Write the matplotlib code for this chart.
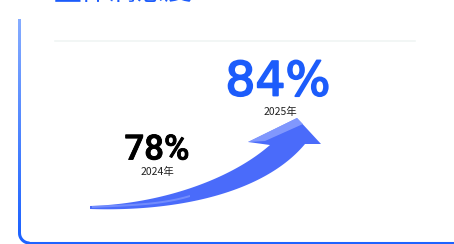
import numpy as np
import matplotlib.pyplot as plt
import matplotlib.patheffects as pe
from matplotlib.colors import LinearSegmentedColormap
from matplotlib.patches import Polygon

plt.rcParams['font.family'] = ['Noto Sans CJK SC', 'DejaVu Sans']

# 데이터
title = "整体满意度"
years = ["2024年", "2025年"]
rates = [78, 84]

BLUE = "#1c5cfb"
ARROW = "#4a6bfa"
ARROW_LIGHT = "#8ea3ff"


def rate_to_y(r):
    # 만족도 → 세로 위치 (픽셀, 위가 0)
    return 150 - (r - rates[0]) * (70 / 6)


def bezier(p0, p1, p2, p3, n=80):
    t = np.linspace(0, 1, n)[:, None]
    p0, p1, p2, p3 = map(np.array, (p0, p1, p2, p3))
    return ((1 - t) ** 3 * p0 + 3 * (1 - t) ** 2 * t * p1
            + 3 * (1 - t) * t ** 2 * p2 + t ** 3 * p3)


fig = plt.figure(figsize=(4.54, 2.44), dpi=100)
ax = fig.add_axes([0, 0, 1, 1])
ax.set_xlim(0, 454)
ax.set_ylim(244, 0)
ax.axis("off")

# 제목 (위쪽이 잘려 있음)
ax.text(54, 0.5, title, color=BLUE, fontsize=20, ha="left", va="baseline")

# 왼쪽/아래 테두리 (세로 그라데이션)
cmap = LinearSegmentedColormap.from_list("b", ["#86acff", "#1e63ff"])
grad = np.linspace(0, 1, 200)[:, None]
ax.imshow(grad, cmap=cmap, aspect="auto", extent=[18.4, 20.6, 233, 19],
          interpolation="bilinear", zorder=1)
ang = np.linspace(np.pi, np.pi / 2, 20)
ax.plot(29.5 + 10 * np.cos(ang), 233 + 10 * np.sin(ang), color="#1e63ff", lw=2.2,
        solid_capstyle="butt")
ax.plot([29.5, 454], [243, 243], color="#1e63ff", lw=2.2)
ax.set_xlim(0, 454)
ax.set_ylim(244, 0)

# 희미한 구분선
ax.plot([55, 415], [41, 41], color="#f0f5f4", lw=1.2)

# 곡선 화살표
top = bezier((90, 206), (160, 204), (230, 180), (270, 145))
bot = bezier((90, 209), (180, 212), (265, 192), (305, 144))
head = [(248, 142), (297, 118), (321, 144)]
shape = np.vstack([top, head, bot[::-1]])
ax.add_patch(Polygon(shape, closed=True, facecolor=ARROW, edgecolor="none"))
# 밝은 면
ax.add_patch(Polygon([(248, 142), (297, 118), (303, 124), (265, 141)],
                     closed=True, facecolor=ARROW_LIGHT, edgecolor="none", alpha=0.8))
hl = bezier((92, 206), (130, 204), (160, 204), (190, 195), n=40)
hl2 = hl + np.array([0, 2.0])
ax.add_patch(Polygon(np.vstack([hl, hl2[::-1]]), closed=True,
                     facecolor=ARROW_LIGHT, edgecolor="none", alpha=0.6))

# 수치 라벨
label_x = [157, 278]
ax.text(label_x[0], rate_to_y(rates[0]), f"{rates[0]}%", family="Roboto",
        fontweight="medium", fontsize=25, color="black", ha="center", va="center",
        path_effects=[pe.withStroke(linewidth=0.6, foreground="black")])
ax.text(label_x[0], rate_to_y(rates[0]) + 22, years[0], fontsize=7.5,
        color="#222222", ha="center", va="center")
ax.text(label_x[1], rate_to_y(rates[1]) + 3, f"{rates[1]}%", family="DejaVu Sans",
        fontsize=34, color=BLUE, ha="center", va="center",
        path_effects=[pe.withStroke(linewidth=1.3, foreground=BLUE)])
ax.text(label_x[1] + 2, rate_to_y(rates[1]) + 32, years[1], fontsize=7.5,
        color="#222222", ha="center", va="center")

fig.savefig("out.png", dpi=100)
